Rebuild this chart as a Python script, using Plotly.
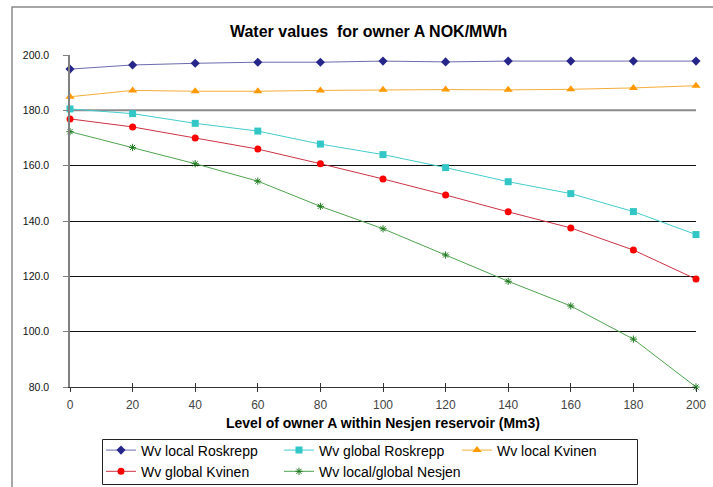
import plotly.graph_objects as go

levels = [0, 20, 40, 60, 80, 100, 120, 140, 160, 180, 200]
wv_local_roskrepp = [194.9, 196.4, 197.0, 197.4, 197.4, 197.8, 197.5, 197.8, 197.8, 197.8, 197.8]
wv_global_roskrepp = [180.5, 178.8, 175.3, 172.5, 167.8, 164.0, 159.3, 154.2, 149.9, 143.4, 135.1]
wv_local_kvinen = [184.9, 187.2, 186.9, 186.9, 187.2, 187.4, 187.5, 187.4, 187.6, 188.1, 188.9]
wv_global_kvinen = [176.9, 174.0, 170.0, 166.0, 160.7, 155.2, 149.4, 143.3, 137.5, 129.5, 119.0]
wv_nesjen = [172.3, 166.6, 160.7, 154.4, 145.3, 137.2, 127.7, 118.2, 109.3, 97.3, 80.0]

y_ticks = [80, 100, 120, 140, 160, 180, 200]
y_tick_text = ["80.0", "100.0", "120.0", "140.0", "160.0", "180.0", "200.0"]
x_ticks = levels
grid_black = [100, 120, 140, 160]
grid_gray = [180]

series = [
    ("Wv local Roskrepp", wv_local_roskrepp, "#6b6bb0", "#26268a", "diamond", 7),
    ("Wv global Roskrepp", wv_global_roskrepp, "#44cccc", "#33c6c6", "square", 7),
    ("Wv local Kvinen", wv_local_kvinen, "#f5ad3a", "#ff9900", "triangle-up", 8),
    ("Wv global Kvinen", wv_global_kvinen, "#cc3344", "#ff0000", "circle", 7),
    ("Wv local/global Nesjen", wv_nesjen, "#4fa34f", "#1f7a1f", "asterisk", 6),
]

fig = go.Figure()
for name, vals, lc, mc, sym, sz in series:
    mk = dict(symbol=sym, size=sz, color=mc)
    if sym == "asterisk":
        mk["line"] = dict(color=mc, width=1)
    else:
        mk["line"] = dict(width=0)
    fig.add_trace(go.Scatter(
        x=levels, y=vals, name=name, mode="lines+markers",
        line=dict(color=lc, width=1), marker=mk, cliponaxis=False,
    ))

# invisible trace on overlay axes (crossing x ticks, black gridlines)
fig.add_trace(go.Scatter(x=[0], y=[80], xaxis="x2", yaxis="y2", showlegend=False,
                         mode="markers", marker=dict(opacity=0), hoverinfo="skip"))

W, H = 713, 487
L, R, T, B = 70, 17, 55, 100
PW, PH = W - L - R, H - T - B


def px_x(p):
    return (p - L) / PW


def px_y(p):
    return (H - B - p) / PH


shapes = []
for g in grid_gray:
    shapes.append(dict(type="line", xref="paper", x0=0, x1=1, yref="y", y0=g, y1=g,
                       line=dict(color="#8c8c8c", width=2), layer="below"))
# outer chart frame
shapes.append(dict(type="rect", xref="paper", yref="paper",
                   x0=px_x(12), x1=px_x(760), y0=px_y(560), y1=px_y(7),
                   line=dict(color="#8a8a8a", width=1.5), layer="below"))
# legend frame
shapes.append(dict(type="rect", xref="paper", yref="paper",
                   x0=px_x(102.5), x1=px_x(637.5), y0=px_y(484.5), y1=px_y(439.5),
                   line=dict(color="#222222", width=1), layer="below"))

fig.update_layout(
    width=W, height=H,
    margin=dict(l=L, r=R, t=T, b=B, autoexpand=False),
    paper_bgcolor="white", plot_bgcolor="white",
    font=dict(family="Liberation Sans, Arial, sans-serif", color="black"),
    title=dict(text="<b>Water values  for owner A NOK/MWh</b>", x=0.517, xanchor="center",
               y=1 - 31 / H, yanchor="middle", font=dict(size=16)),
    showlegend=True,
    legend=dict(orientation="h", x=px_x(101), xanchor="left",
                y=px_y(434.5), yanchor="top",
                borderwidth=0, bgcolor="rgba(0,0,0,0)",
                font=dict(size=14), entrywidth=133, entrywidthmode="pixels",
                itemwidth=30, tracegroupgap=0),
    xaxis=dict(range=[0, 200], tickvals=x_ticks, ticks="outside", ticklen=4,
               tickcolor="#333333", showline=True, linecolor="#333333", linewidth=1,
               showgrid=False, zeroline=False, ticklabelstandoff=3,
               tickfont=dict(size=12, color="#444444"),
               title=dict(text="<b>Level of owner A within Nesjen reservoir (Mm3)</b>",
                          font=dict(size=14), standoff=6)),
    xaxis2=dict(range=[0, 200], tickvals=x_ticks, ticks="inside", ticklen=4,
                tickcolor="#333333", overlaying="x", showticklabels=False,
                showline=False, showgrid=False, zeroline=False),
    yaxis=dict(range=[80, 200], tickvals=y_ticks, ticktext=y_tick_text, ticks="outside",
               ticklen=5, tickcolor="#808080", showline=True, linecolor="#808080",
               linewidth=1.5, showgrid=False, zeroline=False, ticklabelstandoff=12,
               tickfont=dict(size=10.5, color="#111111")),
    yaxis2=dict(range=[80, 200], tickvals=grid_black, overlaying="y", showticklabels=False,
                ticks="", showline=False, showgrid=True, gridcolor="#111111", gridwidth=1,
                zeroline=False),
    shapes=shapes,
)

fig.write_html("out.html")
